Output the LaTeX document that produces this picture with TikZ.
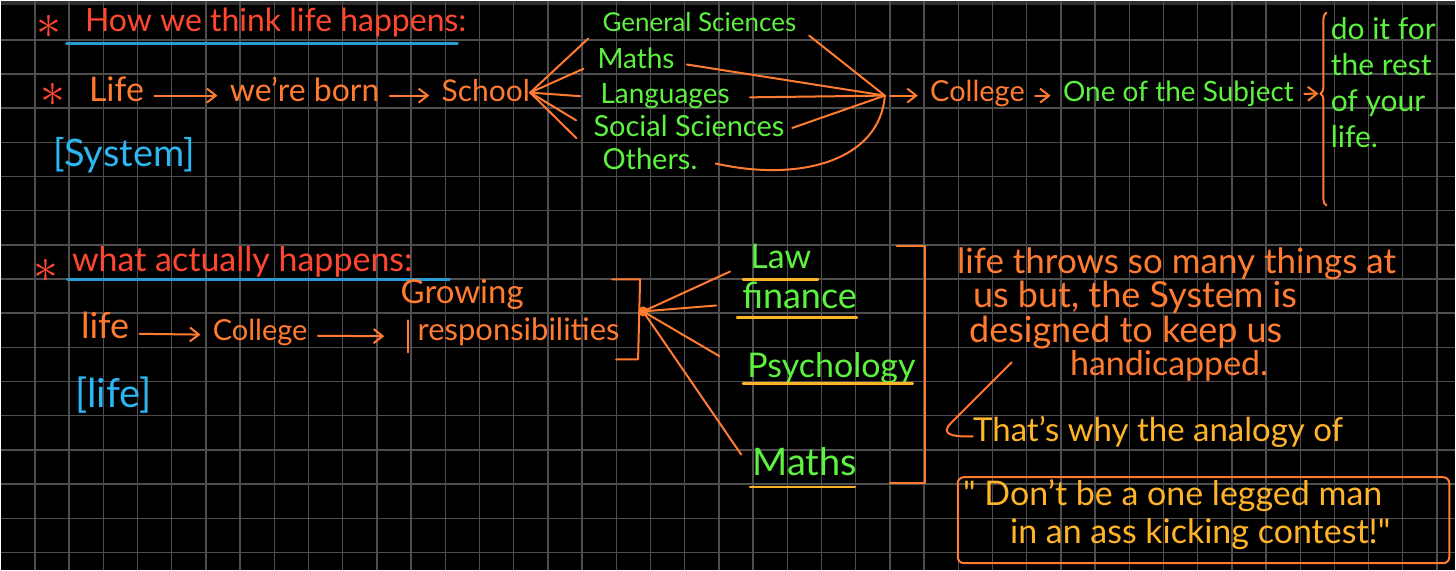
\documentclass[tikz,border=0pt]{standalone}
\usepackage{fontspec}
\setmainfont{Lato}
\usetikzlibrary{arrows.meta,positioning,decorations.pathreplacing}
\definecolor{tomato}{HTML}{FF4730}
\definecolor{tangerine}{HTML}{FF7B30}
\definecolor{leaf}{HTML}{5DF23F}
\definecolor{sky}{HTML}{2CB6F2}
\definecolor{steel}{HTML}{2A9AD4}
\definecolor{amber}{HTML}{FFB428}
\definecolor{gridgray}{HTML}{4E4E4E}

\begin{document}
\begin{tikzpicture}[x=0.5pt,y=-0.5pt,
    hand/.style={inner sep=0pt,anchor=west,text height=1.5ex,text depth=.4ex,font=\fontsize{#1}{#1}\selectfont},
    starmark/.style={inner sep=0pt,tomato,font=\fontsize{24}{24}\selectfont},
    pen/.style={draw=tangerine,line width=1pt,line cap=round,line join=round},
    lead/.style={pen,-{Straight Barb[length=4.5pt,width=7pt]},shorten <=5pt,shorten >=6pt},
    uline/.style={draw=steel,line width=1.6pt,line cap=round},
    goldline/.style={draw=amber,line width=1.2pt,line cap=round},
    gridline/.style={draw=gridgray,line width=0.7pt}]
  % board
  \fill[black] (0,0) rectangle (1456,570);
  \fill[gridgray!60!black] (0,0) rectangle (1456,4);
  \foreach \k in {1,...,42} \draw[gridline] (34.23*\k,0) -- (34.23*\k,570);
  \foreach \k in {1,...,16} \draw[gridline] (0,5+34.2*\k) -- (1456,5+34.2*\k);

  % how we think life happens
  \node[starmark] (star1) at (48,26) {$\ast$};
  \node[hand=16,tomato] (head1) at (84,25) {How we think life happens:};
  \draw[uline] (66,43) -- (457,43);
  \node[starmark] (star2) at (52,94) {$\ast$};
  \node[hand=17,tangerine] (life1) at (88,95) {Life};
  \node[hand=16,tangerine] (born) at (229,95) {we're born};
  \node[hand=15,tangerine] (school) at (441,95) {School};
  \draw[lead] (life1) -- (born);
  \draw[lead] (born) -- (school);
  \node[hand=19,sky] (system) at (52,160) {[System]};

  \coordinate (hubA) at (530,92);
  \node[hand=13,leaf] (gensci) at (602,25) {General Sciences};
  \node[hand=14,leaf] (maths1) at (597,62) {Maths};
  \node[hand=14,leaf] (lang) at (600,97) {Languages};
  \node[hand=14.5,leaf] (socsci) at (593,130) {Social Sciences};
  \node[hand=14.5,leaf] (others) at (602,163) {Others.};
  \foreach \n/\g in {gensci/9.5pt,maths1/7.5pt,lang/10pt,socsci/10pt,others/18pt}
    \draw[pen,shorten >=\g] (hubA) -- (\n.west);

  \coordinate (hubB) at (885,95);
  \foreach \n/\g in {gensci/8pt,maths1/6pt,lang/10pt,socsci/4pt}
    \draw[pen,shorten <=\g] (\n.east) -- (hubB);
  \draw[pen] ([xshift=9pt]others.east) .. controls (800,182) and (880,160) .. (hubB);

  \node[hand=14.5,tangerine] (college1) at (930,95) {College};
  \node[hand=14,leaf] (subject) at (1063,95) {One of the Subject};
  \draw[lead,shorten <=2.5pt] (hubB) -- (college1);
  \draw[lead] (college1) -- (subject);
  \draw[pen,decorate,decoration={brace,amplitude=3pt,aspect=0.58}] (1327,205) -- (1327,12);
  \coordinate (bracetip) at (1321,93);
  \draw[lead,shorten >=1pt] (subject) -- (bracetip);
  \node[inner sep=0pt,anchor=north west,align=left,leaf,font=\fontsize{15}{18}\selectfont] (restlife) at (1331,16) {do it for\\the rest\\of your\\life.};

  % what actually happens
  \node[starmark] (star3) at (45,270) {$\ast$};
  \node[hand=17,tomato] (head2) at (71,265) {what actually happens:};
  \draw[uline] (67,279) -- (449,279);
  \node[hand=18,tangerine] (life2) at (80,333) {life};
  \node[hand=14.5,tangerine] (college2) at (212,335) {College};
  \draw[lead] (life2) -- (college2);
  \node[hand=15.5,tangerine] (resp) at (417,335) {responsibilities};
  \node[hand=16.5,tangerine] (growing) at (400,298) {Growing};
  \coordinate (barL) at (408,336);
  \draw[pen] (408,320) -- (408,352);
  \draw[lead,shorten >=12pt] (college2) -- (barL);
  \draw[pen] (612,279) -- (640,279) -- (638,359) -- (616,359);
  \node[hand=20,sky] (lifebox) at (74,402) {[life]};

  \coordinate (hubC) at (643,311);
  \fill[tangerine] (hubC) circle (2.5pt);
  \node[hand=17,leaf] (law) at (750,262) {Law};
  \node[hand=18,leaf] (fin) at (742,303) {finance};
  \node[hand=17,leaf] (psy) at (747,372) {Psychology};
  \node[hand=19,leaf] (maths2) at (752,470) {Maths};
  \foreach \n/\g in {law/11pt,fin/13pt,psy/16pt,maths2/9.5pt}
    \draw[pen,shorten >=\g] (hubC) -- (\n.west);
  \draw[goldline] (743,279) -- (818,279);
  \draw[goldline] (737,317) -- (857,317);
  \draw[goldline] (743,383) -- (913,383);
  \draw[goldline] (750,487) -- (855,487);
  \draw[pen] (897,246) -- (925,246) -- (925,483) -- (890,483);

  \node[hand=17.5,tangerine] (say1) at (957,267) {life throws so many things at};
  \node[hand=18,tangerine] (say2) at (973,302) {us but, the System is};
  \node[hand=18,tangerine] (say3) at (969,337) {designed to keep us};
  \node[hand=17,tangerine] (say4) at (1070,370) {handicapped.};
  \node[hand=16.5,amber] (why) at (973,436) {That's why the analogy of};
  \coordinate (hookA) at (1012,362);
  \draw[pen] (hookA) -- (951,423) .. controls (941,433) and (950,437) .. (why.west);

  \node[draw=tangerine,line width=1pt,rounded corners=3pt,minimum width=246pt,minimum height=43pt,inner sep=0pt] (quotebox) at (1204,520) {};
  \node[hand=17,amber] (quote1) at (963,500) {\textquotedbl{} Don't be a one legged man};
  \node[hand=17,amber] (quote2) at (1010,538) {in an ass kicking contest!\textquotedbl};
\end{tikzpicture}
\end{document}
